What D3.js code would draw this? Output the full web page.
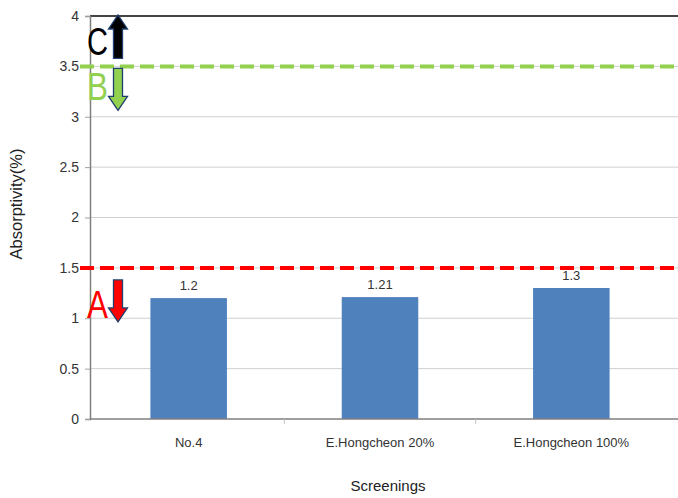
<!DOCTYPE html>
<html><head><meta charset="utf-8">
<script src="https://cdn.jsdelivr.net/npm/d3@7"></script>
<style>body{margin:0;background:#fff;} svg{display:block;font-family:Arial,"Liberation Sans",sans-serif;}</style>
</head><body>
<svg id="c" width="678" height="498"></svg>
<script>
const categories = ["No.4", "E.Hongcheon 20%", "E.Hongcheon 100%"];
const values = [1.2, 1.21, 1.3];
const valueLabels = ["1.2", "1.21", "1.3"];
const yTicks = [0, 0.5, 1, 1.5, 2, 2.5, 3, 3.5, 4];
const thresholds = [1.5, 3.5];
const thresholdColors = ["#ff0000", "#92d050"];
const markers = [
  {letter: "A", at: 1.5, dir: "down", color: "#ff0000"},
  {letter: "B", at: 3.5, dir: "down", color: "#92d050"},
  {letter: "C", at: 3.5, dir: "up", color: "#000000"}
];

(function () {
const svg = d3.select("#c");
const W = 678;
const mLeft = 90, mTop = 16, mBottom = 419;
const x = d3.scaleBand().domain(categories).range([93, 667]).paddingInner(0.6).paddingOuter(0.3);
const y = d3.scaleLinear().domain([0, 4]).range([mBottom, mTop]);

// gridlines
svg.append("g").selectAll("line").data(yTicks.filter(d => d > 0 && d < 4)).join("line")
  .attr("x1", mLeft).attr("x2", W).attr("y1", d => y(d)).attr("y2", d => y(d))
  .attr("stroke", "#d0d0d0").attr("stroke-width", 1);
// top border
svg.append("line").attr("x1", mLeft).attr("x2", W).attr("y1", y(4)).attr("y2", y(4))
  .attr("stroke", "#444").attr("stroke-width", 2);

// y axis
const yAxis = d3.axisLeft(y).tickValues(yTicks).tickSize(5).tickPadding(6).tickFormat(d => d3.format("")(d));
const gy = svg.append("g").attr("transform", `translate(${mLeft},0)`).call(yAxis);
gy.select(".domain").attr("stroke", "#7f7f7f").attr("stroke-width", 1.5);
gy.selectAll(".tick line").attr("stroke", "#a0a0a0");
gy.selectAll("text").attr("font-size", 14).attr("fill", "#333").attr("font-family", "Arial,'Liberation Sans',sans-serif");

// bars
svg.append("g").selectAll("rect").data(values).join("rect")
  .attr("x", (d, i) => x(categories[i])).attr("width", x.bandwidth())
  .attr("y", d => y(d)).attr("height", d => y(0) - y(d))
  .attr("fill", "#4f81bd");

// x axis
svg.append("line").attr("x1", mLeft).attr("x2", W).attr("y1", y(0)).attr("y2", y(0))
  .attr("stroke", "#7f7f7f").attr("stroke-width", 1.5);
svg.append("g").selectAll("line").data(d3.range(1, categories.length)).join("line")
  .attr("x1", i => x(categories[i]) - x.step() * x.paddingInner() / 2)
  .attr("x2", i => x(categories[i]) - x.step() * x.paddingInner() / 2)
  .attr("y1", y(0)).attr("y2", y(0) + 5).attr("stroke", "#c0c0c0");
svg.append("g").selectAll("text").data(categories).join("text")
  .attr("x", d => x(d) + x.bandwidth() / 2).attr("y", y(0) + 28)
  .attr("text-anchor", "middle").attr("font-size", 13).attr("fill", "#333").text(d => d);

// value labels
svg.append("g").selectAll("text").data(values).join("text")
  .attr("x", (d, i) => x(categories[i]) + x.bandwidth() / 2).attr("y", d => y(d) - 8)
  .attr("text-anchor", "middle").attr("font-size", 13).attr("fill", "#333").text((d, i) => valueLabels[i]);

// threshold lines
svg.append("g").selectAll("line").data(thresholds).join("line")
  .attr("x1", 80).attr("x2", W).attr("y1", d => y(d)).attr("y2", d => y(d))
  .attr("stroke", (d, i) => thresholdColors[i]).attr("stroke-width", 4)
  .attr("stroke-dasharray", "14,6");

// arrows
const ax = 118;
function arrowPath(y1, y2) { // tail y1, tip y2
  const dir = y2 > y1 ? 1 : -1;
  const headLen = 14, sw = 4.5, hw = 9.5;
  const hy = y2 - dir * headLen;
  return `M${ax - sw},${y1} L${ax + sw},${y1} L${ax + sw},${hy} L${ax + hw},${hy} L${ax},${y2} L${ax - hw},${hy} L${ax - sw},${hy} Z`;
}
markers.forEach(m => {
  let y1, y2, ly;
  if (m.dir === "up") { y1 = y(m.at) - 8; y2 = y(4) - 1; ly = y(m.at) - 11; }
  else if (m.at === 3.5) { y1 = y(m.at) + 2; y2 = y(m.at) + 44; ly = y(m.at) + 34; }
  else { y1 = y(m.at) + 12; y2 = y(m.at) + 54; ly = y(m.at) + 50; }
  svg.append("path").attr("d", arrowPath(y1, y2)).attr("fill", m.color)
    .attr("stroke", "#1f3f6e").attr("stroke-width", 1.3);
  svg.append("text").attr("x", 87).attr("y", ly).attr("font-size", 38)
    .attr("textLength", 21).attr("lengthAdjust", "spacingAndGlyphs")
    .attr("fill", m.color).text(m.letter);
});

// axis titles
svg.append("text").attr("x", 388).attr("y", 491).attr("text-anchor", "middle")
  .attr("font-size", 15).attr("fill", "#222").text("Screenings");
svg.append("text").attr("transform", "translate(22,204) rotate(-90)").attr("text-anchor", "middle")
  .attr("font-size", 16.5).attr("fill", "#222").text("Absorptivity(%)");
})();
</script>
</body></html>
